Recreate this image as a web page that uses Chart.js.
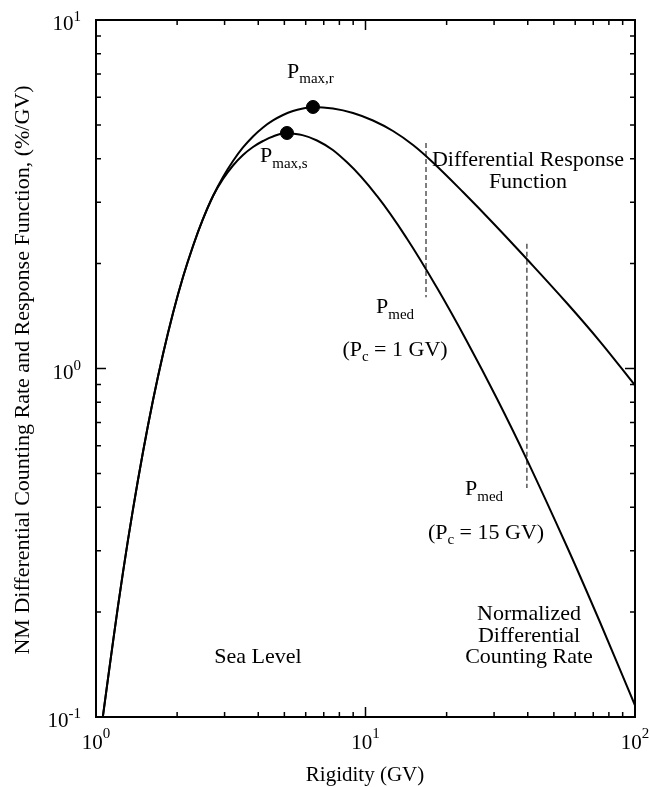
<!DOCTYPE html>
<html>
<head>
<meta charset="utf-8">
<script src="https://cdn.jsdelivr.net/npm/chart.js@4.4.1/dist/chart.umd.min.js"></script>
<style>
  html, body { margin: 0; padding: 0; background: #fff; }
  #wrap { width: 650px; height: 787px; }
</style>
</head>
<body>
<div id="wrap"><canvas id="chart"></canvas></div>
<script>
// rigidity (GV) and values (%/GV)
const rigidityResponse = [1.06, 1.156, 1.26, 1.372, 1.494, 1.628, 1.773, 1.931, 2.103, 2.291, 2.495, 2.718, 2.96, 3.224, 3.511, 3.824, 4.166, 4.536, 4.941, 5.381, 5.863, 6.385, 7.575, 8.988, 10.66, 12.65, 15.01, 17.80, 23.00, 29.73, 39.74, 55.94, 74.17, 100];
const responseFn       = [0.1, 0.164, 0.261, 0.395, 0.576, 0.812, 1.10, 1.443, 1.83, 2.247, 2.686, 3.127, 3.544, 3.939, 4.307, 4.632, 4.916, 5.149, 5.339, 5.482, 5.573, 5.629, 5.573, 5.41, 5.149, 4.803, 4.379, 3.90, 3.209, 2.616, 2.058, 1.539, 1.195, 0.895];

const rigidityCounting = [1.06, 1.156, 1.26, 1.372, 1.494, 1.628, 1.773, 1.931, 2.103, 2.291, 2.495, 2.718, 2.96, 3.224, 3.511, 3.824, 4.166, 4.536, 5.112, 6.607, 8.539, 11.03, 14.26, 18.42, 23.80, 30.76, 39.74, 55.94, 74.17, 100];
const countingRate     = [0.1, 0.164, 0.261, 0.395, 0.576, 0.812, 1.10, 1.443, 1.83, 2.247, 2.686, 3.127, 3.498, 3.824, 4.099, 4.322, 4.496, 4.632, 4.740, 4.511, 3.905, 3.127, 2.357, 1.704, 1.196, 0.819, 0.547, 0.308, 0.187, 0.108];

const peakRigidity = [6.385, 5.112];   // Pmax,r  Pmax,s
const peakValue    = [5.629, 4.740];

const medianRigidity = [16.77, 39.7]; // Pmed for Pc = 1 GV and 15 GV
const medianTop      = [4.44, 2.28];
const medianBottom   = [1.60, 0.454];

const xTicks = [1, 2, 3, 4, 5, 6, 7, 8, 9, 10, 20, 30, 40, 50, 60, 70, 80, 90, 100];
const yTicks = [0.1, 0.2, 0.3, 0.4, 0.5, 0.6, 0.7, 0.8, 0.9, 1, 2, 3, 4, 5, 6, 7, 8, 9, 10];

const SERIF = '"Liberation Serif", "Times New Roman", serif';
const F = s => s + 'px ' + SERIF;

const pts = (xs, ys) => xs.map((x, i) => ({ x, y: ys[i] }));
const isPow10 = v => Math.abs(Math.log10(v) - Math.round(Math.log10(v))) < 1e-9;

// text made of runs: [text, size, dy]
function runs(ctx, parts, x, y, align) {
  let w = 0;
  parts.forEach(p => { ctx.font = F(p[1]); w += ctx.measureText(p[0]).width; });
  let cx = align === 'center' ? x - w / 2 : align === 'right' ? x - w : x;
  ctx.textAlign = 'left';
  parts.forEach(p => {
    ctx.font = F(p[1]);
    ctx.fillText(p[0], cx, y + (p[2] || 0));
    cx += ctx.measureText(p[0]).width;
  });
}

const decor = {
  id: 'decor',
  afterDatasetsDraw(chart) {
    const { ctx, chartArea: a, scales: { x, y } } = chart;
    ctx.save();
    ctx.strokeStyle = '#000';
    ctx.fillStyle = '#000';

    // frame
    ctx.lineWidth = 2;
    ctx.strokeRect(a.left, a.top, a.right - a.left, a.bottom - a.top);

    // inward ticks
    ctx.lineWidth = 1.5;
    ctx.beginPath();
    xTicks.forEach(v => {
      const px = x.getPixelForValue(v);
      const len = isPow10(v) ? 10 : 5;
      ctx.moveTo(px, a.bottom); ctx.lineTo(px, a.bottom - len);
      ctx.moveTo(px, a.top);    ctx.lineTo(px, a.top + len);
    });
    yTicks.forEach(v => {
      const py = y.getPixelForValue(v);
      const len = isPow10(v) ? 10 : 5;
      ctx.moveTo(a.left, py);  ctx.lineTo(a.left + len, py);
      ctx.moveTo(a.right, py); ctx.lineTo(a.right - len, py);
    });
    ctx.stroke();

    // tick labels  10^n
    ctx.textBaseline = 'alphabetic';
    xTicks.filter(isPow10).forEach(v => {
      const px = x.getPixelForValue(v);
      runs(ctx, [['10', 21, 0], [String(Math.round(Math.log10(v))), 15, -11]], px, a.bottom + 32, 'center');
    });
    yTicks.filter(isPow10).forEach(v => {
      const py = y.getPixelForValue(v);
      runs(ctx, [['10', 21, 0], [String(Math.round(Math.log10(v))), 15, -9]], a.left - 15, py + 10, 'right');
    });

    // axis titles
    ctx.font = F(21);
    ctx.textAlign = 'center';
    ctx.fillText('Rigidity (GV)', 365, 781);
    ctx.save();
    ctx.translate(29, 370);
    ctx.rotate(-Math.PI / 2);
    ctx.font = F(22);
    ctx.fillText('NM Differential Counting Rate and Response Function, (%/GV)', 0, 0);
    ctx.restore();

    // annotations
    runs(ctx, [['P', 22, 0], ['max,r', 15, 5]], 287, 78, 'left');
    runs(ctx, [['P', 22, 0], ['max,s', 15, 6]], 260, 162, 'left');
    runs(ctx, [['P', 22, 0], ['med', 15, 6]], 376, 313, 'left');
    runs(ctx, [['(P', 22, 0], ['c', 15, 5], [' = 1 GV)', 22, 0]], 395, 356, 'center');
    runs(ctx, [['P', 22, 0], ['med', 15, 6]], 465, 495, 'left');
    runs(ctx, [['(P', 22, 0], ['c', 15, 5], [' = 15 GV)', 22, 0]], 486, 539, 'center');

    ctx.font = F(22);
    ctx.textAlign = 'center';
    ctx.fillText('Differential Response', 528, 166);
    ctx.fillText('Function', 528, 188);
    ctx.fillText('Normalized', 529, 620);
    ctx.fillText('Differential', 529, 642);
    ctx.fillText('Counting Rate', 529, 663);
    ctx.fillText('Sea Level', 258, 663);
    ctx.restore();
  }
};

const curve = { borderColor: '#000', borderWidth: 2, pointRadius: 0, tension: 0.4, fill: false };
const dashed = { borderColor: '#555', borderWidth: 1.5, borderDash: [5, 3], pointRadius: 0, fill: false };

new Chart(document.getElementById('chart'), {
  type: 'line',
  data: {
    datasets: [
      { label: 'Differential Response Function', data: pts(rigidityResponse, responseFn), ...curve },
      { label: 'Normalized Differential Counting Rate', data: pts(rigidityCounting, countingRate), ...curve },
      { label: 'Pmed (Pc = 1 GV)', data: pts([medianRigidity[0], medianRigidity[0]], [medianTop[0], medianBottom[0]]), ...dashed },
      { label: 'Pmed (Pc = 15 GV)', data: pts([medianRigidity[1], medianRigidity[1]], [medianTop[1], medianBottom[1]]), ...dashed },
      { label: 'Pmax', type: 'scatter', data: pts(peakRigidity, peakValue), pointRadius: 6.5, pointBackgroundColor: '#000', pointBorderColor: '#000', showLine: false }
    ]
  },
  options: {
    responsive: true,
    maintainAspectRatio: false,
    animation: false,
    layout: { padding: { left: 96, right: 15, top: 20, bottom: 70 } },
    plugins: { legend: { display: false }, tooltip: { enabled: false } },
    scales: {
      x: { type: 'logarithmic', min: 1, max: 100, display: false },
      y: { type: 'logarithmic', min: 0.1, max: 10, display: false }
    }
  },
  plugins: [decor]
});
</script>
</body>
</html>
